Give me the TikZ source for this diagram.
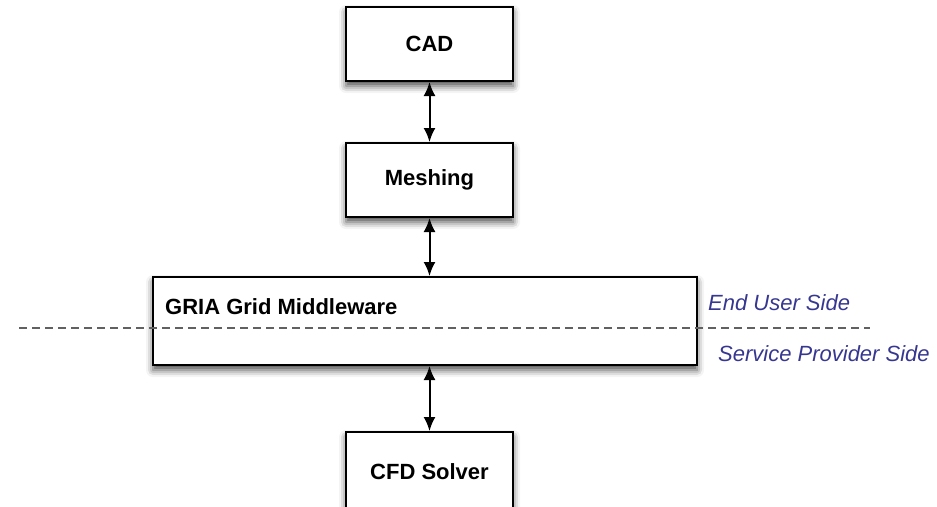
\documentclass[tikz,border=0pt]{standalone}
\usepackage{fontspec}
\setmainfont{Liberation Sans}
\usetikzlibrary{arrows.meta,shadows.blur}
\definecolor{sidecol}{RGB}{55,55,145}

\begin{document}
\begin{tikzpicture}[x=1pt,y=-1pt,
  box/.style={draw, line width=2pt, fill=white, minimum width=167pt, minimum height=74pt,
    font=\bfseries\fontsize{22}{26}\selectfont,
    blur shadow={shadow xshift=0pt, shadow yshift=-5pt, shadow blur radius=7pt, shadow opacity=70}},
  link/.style={line width=2pt, {Latex[length=14pt,width=12pt]}-{Latex[length=14pt,width=12pt]}},
  side/.style={anchor=west, inner sep=0pt, text=sidecol, font=\itshape\fontsize{22}{26}\selectfont}]
\useasboundingbox (0,0) rectangle (937,506);

\node[box] (cad) at (429.5,44) {CAD};
\node[box] (mesh) at (429.5,180) {Meshing};
\node[box, minimum width=544pt, minimum height=88pt] (mw) at (425,321) {};
\node[anchor=west, inner sep=0pt, font=\bfseries\fontsize{22}{26}\selectfont] (mwlabel) at (165,307) {GRIA Grid Middleware};
\node[box, minimum height=80pt] (cfd) at (429.5,472) {CFD Solver};

\path[draw,link] (cad) -- (mesh);
\path[draw,link] (mesh) -- (mesh |- mw.north);
\path[draw,link] (cfd.north |- mw.south) -- (cfd);

% border between the two sides
\coordinate (dl) at (19,328);
\coordinate (dr) at (870,328);
\path[draw, line width=2.4pt, black!62, dash pattern=on 8pt off 5pt] (dl) -- (dr);

\node[side] (user) at (708,303) {End User Side};
\node[side] (provider) at (718,354) {Service Provider Side};
\end{tikzpicture}
\end{document}
